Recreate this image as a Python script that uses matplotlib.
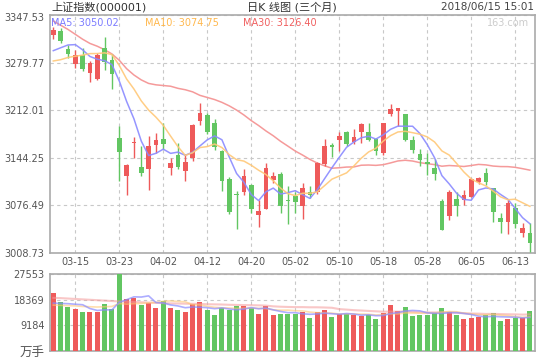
import numpy as np
import matplotlib.pyplot as plt
from matplotlib.transforms import ScaledTranslation

plt.rcParams['font.family'] = ['DejaVu Sans', 'Noto Sans CJK SC']

dates = ['03-12', '03-13', '03-14', '03-15', '03-16', '03-19', '03-20', '03-21', '03-22', '03-23',
         '03-26', '03-27', '03-28', '03-29', '03-30', '04-02', '04-03', '04-04', '04-09', '04-10',
         '04-11', '04-12', '04-13', '04-16', '04-17', '04-18', '04-19', '04-20', '04-23', '04-24',
         '04-25', '04-26', '04-27', '05-02', '05-03', '05-04', '05-07', '05-08', '05-09', '05-10',
         '05-11', '05-14', '05-15', '05-16', '05-17', '05-18', '05-21', '05-22', '05-23', '05-24',
         '05-25', '05-28', '05-29', '05-30', '05-31', '06-01', '06-04', '06-05', '06-06', '06-07',
         '06-08', '06-11', '06-12', '06-13', '06-14', '06-15']

opens = [3318.8, 3325.0, 3299.7, 3277.2, 3291.1, 3264.8, 3256.7, 3301.2, 3282.9, 3172.9,
         3117.8, 3165.2, 3131.3, 3127.5, 3161.9, 3170.5, 3129.3, 3147.5, 3125.0, 3143.0,
         3196.8, 3205.0, 3193.5, 3153.7, 3114.0, 3093.0, 3094.9, 3105.9, 3062.8, 3071.0,
         3112.0, 3120.3, 3084.0, 3089.1, 3074.8, 3094.9, 3094.9, 3134.6, 3162.0, 3169.5,
         3180.1, 3166.6, 3181.0, 3180.1, 3170.5, 3151.4, 3206.4, 3211.2, 3206.4, 3169.5,
         3148.9, 3137.9, 3129.9, 3082.0, 3061.4, 3085.4, 3083.4, 3088.3, 3109.2, 3121.7,
         3101.2, 3058.1, 3053.2, 3072.5, 3037.4, 3037.4]
highs = [3331.0, 3329.4, 3304.4, 3297.3, 3300.7, 3282.0, 3294.0, 3315.5, 3292.5, 3188.8,
         3135.0, 3173.8, 3160.9, 3175.3, 3178.7, 3193.5, 3144.2, 3165.8, 3149.0, 3192.0,
         3222.2, 3207.4, 3199.2, 3155.0, 3116.0, 3096.3, 3128.4, 3106.5, 3084.4, 3137.0,
         3123.6, 3124.0, 3103.5, 3094.9, 3107.4, 3104.5, 3138.0, 3171.5, 3165.8, 3180.1,
         3182.4, 3184.8, 3193.5, 3193.5, 3172.9, 3193.5, 3220.8, 3214.6, 3207.0, 3175.0,
         3156.0, 3151.4, 3142.8, 3085.4, 3098.7, 3094.9, 3098.7, 3115.5, 3117.0, 3129.9,
         3101.2, 3065.3, 3084.4, 3079.6, 3050.9, 3050.9]
lows = [3313.0, 3307.9, 3286.8, 3272.4, 3267.0, 3251.9, 3255.0, 3268.6, 3242.3, 3110.7,
        3091.6, 3144.2, 3117.8, 3097.7, 3151.4, 3156.2, 3118.8, 3128.5, 3110.7, 3139.4,
        3190.6, 3177.7, 3155.2, 3096.3, 3064.3, 3042.3, 3091.6, 3066.0, 3046.0, 3071.0,
        3108.3, 3066.0, 3049.9, 3065.3, 3056.7, 3086.8, 3093.0, 3132.2, 3145.7, 3153.7,
        3160.9, 3163.3, 3165.8, 3168.0, 3147.5, 3147.5, 3204.0, 3189.6, 3168.0, 3151.4,
        3132.0, 3118.8, 3112.0, 3041.0, 3054.7, 3060.4, 3077.2, 3088.3, 3106.0, 3105.9,
        3053.2, 3037.4, 3035.6, 3043.8, 3031.7, 3010.2]
closes = [3326.70, 3310.24, 3291.38, 3291.11, 3269.88, 3279.25, 3290.64, 3280.95, 3263.48, 3152.76,
          3133.72, 3166.65, 3122.29, 3160.53, 3168.90, 3163.18, 3136.63, 3131.11, 3138.29, 3190.32,
          3208.08, 3180.16, 3159.05, 3110.65, 3066.80, 3091.40, 3117.38, 3071.54, 3068.01, 3128.93,
          3117.97, 3075.03, 3082.23, 3081.18, 3100.86, 3091.03, 3136.64, 3161.50, 3159.15, 3174.41,
          3163.26, 3174.03, 3192.12, 3169.57, 3154.28, 3193.30, 3213.84, 3214.35, 3168.96, 3154.65,
          3141.30, 3135.08, 3120.46, 3041.44, 3095.47, 3075.14, 3091.19, 3114.21, 3115.18, 3109.50,
          3067.15, 3052.78, 3079.80, 3049.80, 3044.16, 3021.90]

ma5 = [3296.7, 3300.8, 3304.8, 3305.3, 3297.9, 3288.4, 3284.5, 3282.4, 3276.8, 3253.4,
       3224.3, 3199.5, 3167.8, 3147.2, 3150.4, 3156.3, 3150.3, 3152.1, 3147.6, 3151.9,
       3160.9, 3169.6, 3175.2, 3169.7, 3145.0, 3121.6, 3109.1, 3091.6, 3083.0, 3095.5,
       3100.8, 3092.3, 3094.4, 3097.1, 3091.5, 3086.1, 3098.4, 3114.2, 3129.8, 3144.6,
       3159.0, 3166.5, 3172.6, 3174.7, 3170.7, 3176.7, 3184.6, 3189.1, 3189.0, 3189.0,
       3178.6, 3162.9, 3144.1, 3118.6, 3106.8, 3093.5, 3084.7, 3083.5, 3098.2, 3101.0,
       3099.5, 3091.8, 3084.9, 3071.8, 3058.7, 3050.0]
ma10 = [3282.0, 3283.8, 3287.0, 3288.8, 3290.3, 3292.5, 3292.6, 3293.6, 3291.1, 3275.6,
        3256.3, 3242.0, 3225.1, 3212.0, 3201.9, 3190.3, 3174.9, 3159.9, 3147.4, 3151.2,
        3158.6, 3160.0, 3163.6, 3158.6, 3148.4, 3141.3, 3139.3, 3133.4, 3126.3, 3120.2,
        3111.2, 3100.7, 3093.0, 3090.1, 3093.5, 3093.4, 3095.4, 3104.3, 3113.5, 3118.0,
        3122.5, 3132.4, 3143.4, 3152.3, 3157.6, 3167.8, 3175.6, 3180.8, 3181.8, 3179.8,
        3177.6, 3173.8, 3166.6, 3153.8, 3147.9, 3136.1, 3123.8, 3113.8, 3108.4, 3103.9,
        3096.5, 3088.3, 3084.2, 3085.0, 3079.9, 3074.8]
ma30 = [3339.0, 3333.0, 3327.0, 3320.0, 3313.0, 3307.0, 3303.0, 3298.0, 3292.0, 3283.0,
        3271.0, 3262.0, 3255.0, 3250.0, 3248.0, 3247.0, 3246.0, 3243.0, 3241.0, 3238.0,
        3233.0, 3230.0, 3227.0, 3223.0, 3218.0, 3212.0, 3205.0, 3197.0, 3190.0, 3182.3,
        3175.4, 3167.5, 3160.6, 3153.6, 3147.9, 3141.7, 3136.5, 3132.6, 3129.1, 3129.8,
        3130.8, 3131.0, 3133.4, 3133.7, 3133.2, 3134.2, 3136.7, 3139.5, 3140.5, 3139.4,
        3137.1, 3135.6, 3134.3, 3132.0, 3133.0, 3132.4, 3131.6, 3133.0, 3134.6, 3133.9,
        3132.2, 3131.5, 3131.4, 3130.4, 3128.5, 3126.4]

# volume, 万手
volumes = [20805, 17468, 15783, 15065, 13989, 13989, 13989, 16859, 15065, 27553,
           18652, 19131, 16500, 17218, 15544, 17935, 15544, 14707, 13989, 16859,
           17576, 14707, 12913, 15424, 14827, 16142, 16142, 15424, 13272, 16142,
           12913, 13272, 13272, 13272, 14109, 11958, 13989, 14707, 12196, 13153,
           13272, 13033, 12674, 12913, 11478, 13630, 16500, 14348, 15783, 12554,
           12913, 12913, 13630, 15424, 13989, 12913, 11478, 11837, 12315, 12913,
           13630, 10761, 11478, 11958, 11717, 14348]
vol_ma5 = [17200, 17100, 17000, 16800, 16622, 15259, 14563, 14778, 14778, 17491,
           18424, 19452, 19380, 19811, 17409, 17266, 16548, 16190, 15544, 15807,
           15735, 15568, 15209, 15496, 15089, 14803, 15090, 15592, 15161, 15424,
           14779, 14205, 13774, 13774, 13368, 13177, 13320, 13607, 13392, 13201,
           13463, 13272, 12866, 13009, 12674, 12746, 13439, 13774, 14348, 14563,
           14420, 13702, 13559, 13487, 13774, 13774, 13487, 13128, 12506, 12291,
           12435, 12291, 12219, 12148, 11909, 12052]
vol_ma10 = [16500, 16400, 16300, 16200, 16000, 15900, 15800, 15900, 16000, 17057,
            16842, 17008, 17079, 17295, 17450, 17845, 18000, 17785, 17678, 16608,
            16501, 16058, 15700, 15520, 15448, 15269, 15329, 15401, 15329, 15257,
            14791, 14648, 14683, 14468, 14396, 13978, 13763, 13691, 13583, 13285,
            13320, 13296, 13237, 13201, 12938, 13105, 13356, 13320, 13679, 13619,
            13583, 13571, 13667, 13918, 14169, 14097, 13595, 13344, 12997, 13033,
            13105, 12889, 12674, 12327, 12100, 12244]
vol_ma30 = [19100, 19000, 18850, 18700, 18550, 18400, 18250, 18100, 17950, 17800,
            17700, 17600, 17500, 17400, 17300, 17200, 17100, 17050, 17000, 16950,
            16900, 16800, 16750, 16700, 16600, 16550, 16500, 16450, 16400, 16307,
            16045, 15905, 15821, 15761, 15765, 15697, 15697, 15626, 15530, 15050,
            14871, 14667, 14540, 14396, 14261, 14117, 14149, 14137, 14197, 14054,
            13898, 13838, 13862, 13862, 13834, 13727, 13571, 13452, 13420, 13312,
            13336, 13252, 13193, 13149, 13069, 13149]

price_ticks = [3008.73, 3076.49, 3144.25, 3212.01, 3279.77, 3347.53]
vol_ticks = [0, 9184, 18369, 27553]
vol_tick_labels = ['万手', '9184', '18369', '27553']
date_ticks = [3, 9, 15, 21, 27, 33, 39, 45, 51, 57, 63]

red = '#ee5a5a'
green = '#62c662'
c_ma5 = '#8a8aff'
c_ma10 = '#ffc878'
c_ma30 = '#f59a9a'
grid_c = '#c8c8c8'
spine_c = '#aaaaaa'
text_c = '#555555'

o = np.array(opens)
c = np.array(closes)
x = np.arange(len(closes))
colors = np.where(c >= o, red, green)

fig = plt.figure(figsize=(5.4, 3.6), dpi=100)
ax = fig.add_axes([50 / 540, 1 - 252.7 / 360, 485 / 540, (252.7 - 15) / 360])
axv = fig.add_axes([50 / 540, 9 / 360, 485 / 540, (351 - 274.3) / 360])

# candles
ax.vlines(x, lows, highs, colors=colors, lw=1.0, zorder=3)
body = np.maximum(np.abs(c - o), 1.0)
ax.bar(x, body, bottom=np.minimum(o, c), width=0.64, color=colors, lw=0, zorder=3)
ax.plot(x, ma5, color=c_ma5, lw=1.1, alpha=0.9, zorder=4)
ax.plot(x, ma10, color=c_ma10, lw=1.1, alpha=0.9, zorder=4)
ax.plot(x, ma30, color=c_ma30, lw=1.1, zorder=2)

# volume
axv.bar(x, volumes, width=0.68, color=colors, lw=0, zorder=3)
axv.plot(x, vol_ma30, color=c_ma30, lw=1.5, alpha=0.55, zorder=4)
axv.plot(x, vol_ma10, color=c_ma10, lw=1.2, alpha=0.6, zorder=4)
axv.plot(x, vol_ma5, color=c_ma5, lw=1.2, alpha=0.7, zorder=4)

for a in (ax, axv):
    a.set_xlim(-0.45, 65.7)
    a.set_xticks(date_ticks)
    a.grid(True, ls=(0, (3, 3)), color=grid_c, lw=0.8)
    a.set_axisbelow(True)
    for s in a.spines.values():
        s.set_color(spine_c)
        s.set_linewidth(1.2)
    a.tick_params(length=0, pad=4, labelsize=7, labelcolor=text_c)

ax.set_ylim(price_ticks[0], price_ticks[-1])
ax.set_yticks(price_ticks)
ax.set_yticklabels(['%.2f' % t for t in price_ticks])
ax.set_xticklabels([dates[i] for i in date_ticks])
ax.tick_params(axis='x', pad=3)
top_lbl = ax.get_yticklabels()[-1]
top_lbl.set_transform(top_lbl.get_transform() + ScaledTranslation(0, -2 / 100, fig.dpi_scale_trans))

axv.set_ylim(0, vol_ticks[-1])
axv.set_yticks(vol_ticks)
axv.set_yticklabels(vol_tick_labels)
axv.set_xticklabels([])
axv.get_yticklabels()[0].set_fontsize(9)

fig.text(51 / 540, 1 - 7 / 360, '上证指数(000001)', ha='left', va='center', fontsize=8, color='#333333')
fig.text(292 / 540, 1 - 7 / 360, '日K 线图 (三个月)', ha='center', va='center', fontsize=8, color='#333333')
fig.text(534 / 540, 1 - 7 / 360, '2018/06/15 15:01', ha='right', va='center', fontsize=7.5, color='#444444')

fig.text(51 / 540, 1 - 23 / 360, 'MA5: %.2f' % 3050.02, ha='left', va='center', fontsize=7, color='#7b7bff')
fig.text(145 / 540, 1 - 23 / 360, 'MA10: %.2f' % 3074.75, ha='left', va='center', fontsize=7, color='#ffb84d')
fig.text(243 / 540, 1 - 23 / 360, 'MA30: %.2f' % 3126.40, ha='left', va='center', fontsize=7, color='#f06060')
fig.text(529 / 540, 1 - 23 / 360, '163.com', ha='right', va='center', fontsize=7, color='#cccccc')

fig.savefig('out.png', dpi=100)
